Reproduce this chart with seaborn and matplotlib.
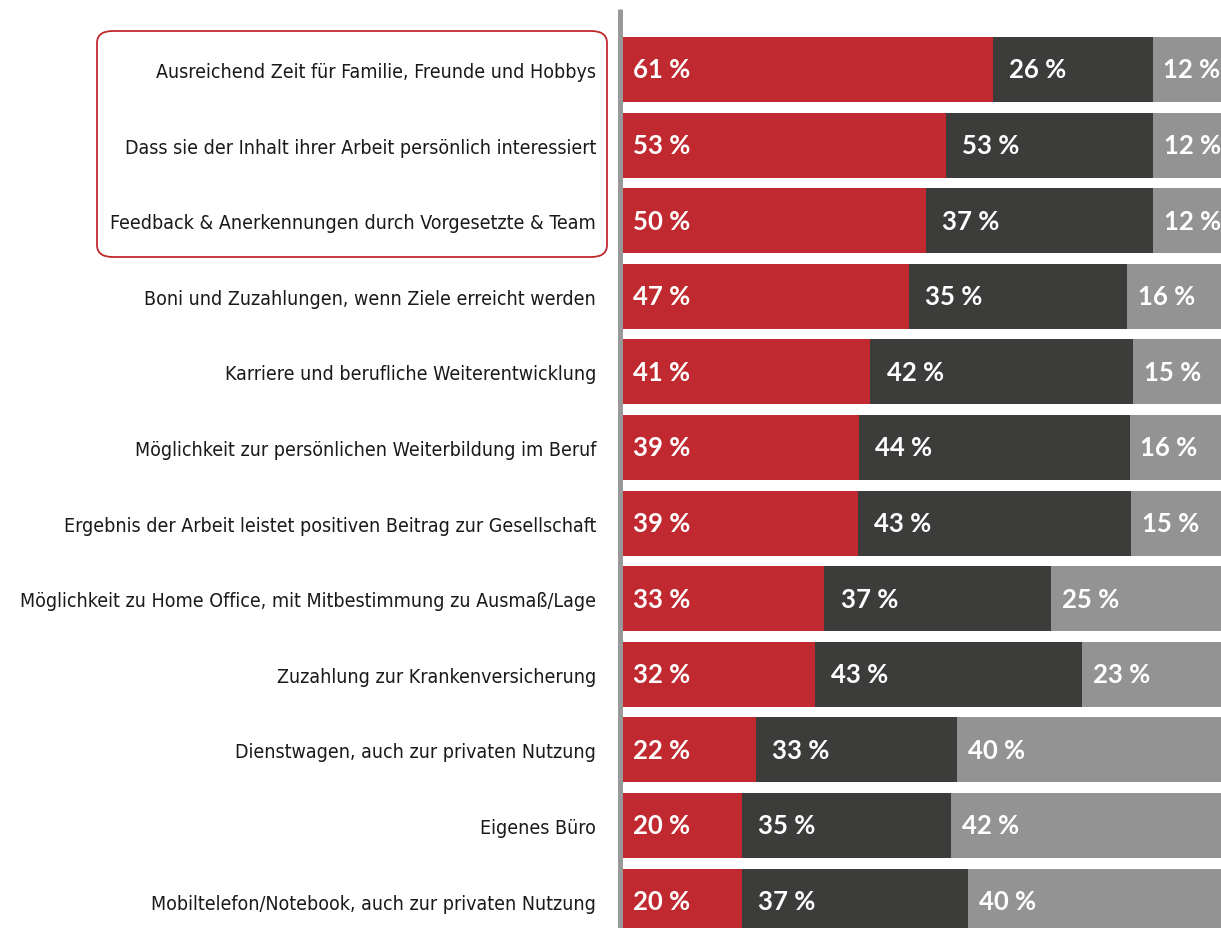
import pandas as pd
import numpy as np
import seaborn as sns
import matplotlib.pyplot as plt
from matplotlib.patches import FancyBboxPatch

categories = [
    'Ausreichend Zeit für Familie, Freunde und Hobbys',
    'Dass sie der Inhalt ihrer Arbeit persönlich interessiert',
    'Feedback & Anerkennungen durch Vorgesetzte & Team',
    'Boni und Zuzahlungen, wenn Ziele erreicht werden',
    'Karriere und berufliche Weiterentwicklung',
    'Möglichkeit zur persönlichen Weiterbildung im Beruf',
    'Ergebnis der Arbeit leistet positiven Beitrag zur Gesellschaft',
    'Möglichkeit zu Home Office, mit Mitbestimmung zu Ausmaß/Lage',
    'Zuzahlung zur Krankenversicherung',
    'Dienstwagen, auch zur privaten Nutzung',
    'Eigenes Büro',
    'Mobiltelefon/Notebook, auch zur privaten Nutzung',
]
# bar lengths as drawn in the picture (percent)
red_bar = [61, 53.3, 50, 47.2, 40.8, 38.9, 38.8, 33.2, 31.7, 21.9, 19.6, 19.6]
dark_bar = [26.4, 34.2, 37.5, 36, 43.4, 44.7, 45, 37.5, 44, 33.3, 34.5, 37.3]
# printed labels
red_lbl = [61, 53, 50, 47, 41, 39, 39, 33, 32, 22, 20, 20]
dark_lbl = [26, 53, 37, 35, 42, 44, 43, 37, 43, 33, 35, 37]
gray_lbl = [12, 12, 12, 16, 15, 16, 15, 25, 23, 40, 42, 40]

RED = '#c0292f'
DARK = '#3c3c3b'
GRAY = '#939393'

df = pd.DataFrame({'cat': categories, 'red': red_bar, 'dark': dark_bar})
df['red_dark'] = df['red'] + df['dark']
df['total'] = 100.0

sns.set_style('white')
plt.rcParams['font.family'] = ['DejaVu Sans']

fig = plt.figure(figsize=(12.21, 9.29), dpi=100)
ax = fig.add_axes([623 / 1221, 0, 1 - 623 / 1221, 1])

# stacked bars by overlaying cumulative totals
sns.barplot(data=df, y='cat', x='total', color=GRAY, saturation=1, width=0.86, ax=ax, linewidth=0)
sns.barplot(data=df, y='cat', x='red_dark', color=DARK, saturation=1, width=0.86, ax=ax, linewidth=0)
sns.barplot(data=df, y='cat', x='red', color=RED, saturation=1, width=0.86, ax=ax, linewidth=0)

ax.set_xlim(0, 98.7)
ax.set_ylim(11.356, -0.9325)
ax.set_xlabel('')
ax.set_ylabel('')
ax.set_xticks([])
ax.tick_params(axis='y', length=0, pad=19.5)
for t in ax.get_yticklabels():
    t.set_fontfamily(['DejaVu Sans'])
    t.set_fontstretch('condensed')
    t.set_fontsize(14)
    t.set_color('#1a1a1a')
for s in ax.spines.values():
    s.set_visible(False)

lbl_font = dict(family=['Lato', 'DejaVu Sans'], weight='bold',
                fontsize=18.5, color='white', va='center', ha='left')
for i in range(len(categories)):
    ax.text(1.6, i, f'{red_lbl[i]} %', **lbl_font)
    ax.text(red_bar[i] + 2.7, i, f'{dark_lbl[i]} %', **lbl_font)
    ax.text(red_bar[i] + dark_bar[i] + 1.8, i, f'{gray_lbl[i]} %', **lbl_font)

# vertical separator line
fig.add_artist(plt.Line2D([619.5 / 1221, 619.5 / 1221], [0, 1 - 10 / 929],
                          color='#999999', linewidth=3.6, solid_capstyle='butt'))

# rounded frame around the first three labels
box = FancyBboxPatch((97 / 1221, 1 - 258 / 929), 510 / 1221, 226 / 929,
                     boxstyle='round,pad=0,rounding_size=0.013',
                     transform=fig.transFigure, fill=False,
                     edgecolor=RED, linewidth=1.3)
fig.add_artist(box)

fig.savefig('out.png', dpi=100)
